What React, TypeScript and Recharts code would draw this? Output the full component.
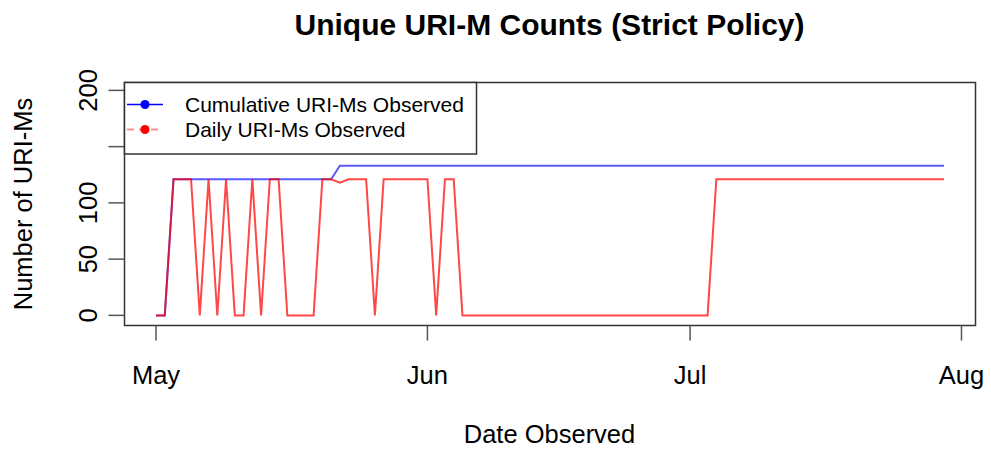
import React from 'react';
import { LineChart, Line, XAxis, YAxis, ReferenceArea } from 'recharts';

// Days since May 1 (daily observations)
const dayOffsets = [
  0, 1, 2, 3, 4, 5, 6, 7, 8, 9,
  10, 11, 12, 13, 14, 15, 16, 17, 18, 19,
  20, 21, 22, 23, 24, 25, 26, 27, 28, 29,
  30, 31, 32, 33, 34, 35, 36, 37, 38, 39,
  40, 41, 42, 43, 44, 45, 46, 47, 48, 49,
  50, 51, 52, 53, 54, 55, 56, 57, 58, 59,
  60, 61, 62, 63, 64, 65, 66, 67, 68, 69,
  70, 71, 72, 73, 74, 75, 76, 77, 78, 79,
  80, 81, 82, 83, 84, 85, 86, 87, 88, 89,
  90,
];

const cumulativeCounts = [
  0, 0, 121, 121, 121, 121, 121, 121, 121, 121,
  121, 121, 121, 121, 121, 121, 121, 121, 121, 121,
  121, 133, 133, 133, 133, 133, 133, 133, 133, 133,
  133, 133, 133, 133, 133, 133, 133, 133, 133, 133,
  133, 133, 133, 133, 133, 133, 133, 133, 133, 133,
  133, 133, 133, 133, 133, 133, 133, 133, 133, 133,
  133, 133, 133, 133, 133, 133, 133, 133, 133, 133,
  133, 133, 133, 133, 133, 133, 133, 133, 133, 133,
  133, 133, 133, 133, 133, 133, 133, 133, 133, 133,
  133,
];

const dailyCounts = [
  0, 0, 121, 121, 121, 0, 121, 0, 121, 0,
  0, 121, 0, 121, 121, 0, 0, 0, 0, 121,
  121, 118, 121, 121, 121, 0, 121, 121, 121, 121,
  121, 121, 0, 121, 121, 0, 0, 0, 0, 0,
  0, 0, 0, 0, 0, 0, 0, 0, 0, 0,
  0, 0, 0, 0, 0, 0, 0, 0, 0, 0,
  0, 0, 0, 0, 121, 121, 121, 121, 121, 121,
  121, 121, 121, 121, 121, 121, 121, 121, 121, 121,
  121, 121, 121, 121, 121, 121, 121, 121, 121, 121,
  121,
];

const monthTicks = [0, 31, 61, 92];
const monthLabels = ['May', 'Jun', 'Jul', 'Aug'];
const yTicks = [0, 50, 100, 150, 200];
const yTickLabels = ['0', '50', '100', '', '200'];

const data = dayOffsets.map((d, i) => ({
  day: d,
  cumulative: cumulativeCounts[i],
  daily: dailyCounts[i],
}));

const FONT = '"Liberation Sans", Arial, Helvetica, sans-serif';
const AXIS_FS = 25.5;

const XTick = (props: any) => {
  const { x, payload } = props;
  const i = monthTicks.indexOf(payload.value);
  return (
    <text x={x} y={384} textAnchor="middle" fontFamily={FONT} fontSize={AXIS_FS} fill="#000">
      {monthLabels[i]}
    </text>
  );
};

const YTick = (props: any) => {
  const { y, payload } = props;
  const i = yTicks.indexOf(payload.value);
  return (
    <text
      x={97}
      y={y}
      transform={`rotate(-90, 97, ${y})`}
      textAnchor="middle"
      fontFamily={FONT}
      fontSize={AXIS_FS}
      fill="#000"
    >
      {yTickLabels[i]}
    </text>
  );
};

export default function App() {
  return (
    <div style={{ position: 'absolute', left: 0, top: 0, width: 991, height: 451, background: '#fff' }}>
      <LineChart
        width={991}
        height={451}
        data={data}
        margin={{ top: 82.5, right: 15.5, bottom: 0, left: 0 }}
      >
        <XAxis
          dataKey="day"
          type="number"
          domain={[-3.6, 93.6]}
          ticks={monthTicks}
          interval={0}
          allowDataOverflow
          axisLine={false}
          tickLine={{ stroke: '#555', strokeWidth: 1.5 }}
          tickSize={15}
          tick={<XTick />}
          height={125.5}
        />
        <YAxis
          type="number"
          domain={[-9, 207]}
          ticks={yTicks}
          interval={0}
          allowDataOverflow
          axisLine={false}
          tickLine={{ stroke: '#555', strokeWidth: 1.5 }}
          tickSize={16}
          tick={<YTick />}
          width={124.5}
        />
        <Line
          type="linear"
          dataKey="cumulative"
          stroke="#0000FF"
          strokeOpacity={0.65}
          strokeWidth={2}
          dot={false}
          isAnimationActive={false}
        />
        <Line
          type="linear"
          dataKey="daily"
          stroke="#FF0000"
          strokeOpacity={0.72}
          strokeWidth={2}
          dot={false}
          isAnimationActive={false}
        />
        <ReferenceArea
          x1={-3.6}
          x2={93.6}
          y1={-9}
          y2={207}
          fill="none"
          stroke="#333"
          strokeWidth={1.5}
          ifOverflow="visible"
        />
      </LineChart>
      <svg
        width={991}
        height={451}
        style={{ position: 'absolute', left: 0, top: 0, pointerEvents: 'none' }}
      >
        <text x={549.5} y={35} textAnchor="middle" fontFamily={FONT} fontWeight="bold" fontSize={30} fill="#000">
          Unique URI-M Counts (Strict Policy)
        </text>
        <text x={549.5} y={443} textAnchor="middle" fontFamily={FONT} fontSize={AXIS_FS} fill="#000">
          Date Observed
        </text>
        <text
          x={32}
          y={204}
          transform="rotate(-90, 32, 204)"
          textAnchor="middle"
          fontFamily={FONT}
          fontSize={AXIS_FS}
          fill="#000"
        >
          Number of URI-Ms
        </text>
        <rect x={124.5} y={82.5} width={352} height={71.5} fill="#fff" stroke="#333" strokeWidth={1.5} />
        <line x1={127} y1={104.5} x2={163} y2={104.5} stroke="#0000FF" strokeWidth={1.5} />
        <circle cx={145} cy={104.5} r={4.5} fill="#0000FF" />
        <line x1={127} y1={129.5} x2={163} y2={129.5} stroke="#FF0000" strokeOpacity={0.45} strokeWidth={2} strokeDasharray="7 5" />
        <circle cx={145} cy={129.5} r={4.5} fill="#FF0000" />
        <text x={185} y={112} fontFamily={FONT} fontSize={21} fill="#000">
          Cumulative URI-Ms Observed
        </text>
        <text x={185} y={137} fontFamily={FONT} fontSize={21} fill="#000">
          Daily URI-Ms Observed
        </text>
      </svg>
    </div>
  );
}
